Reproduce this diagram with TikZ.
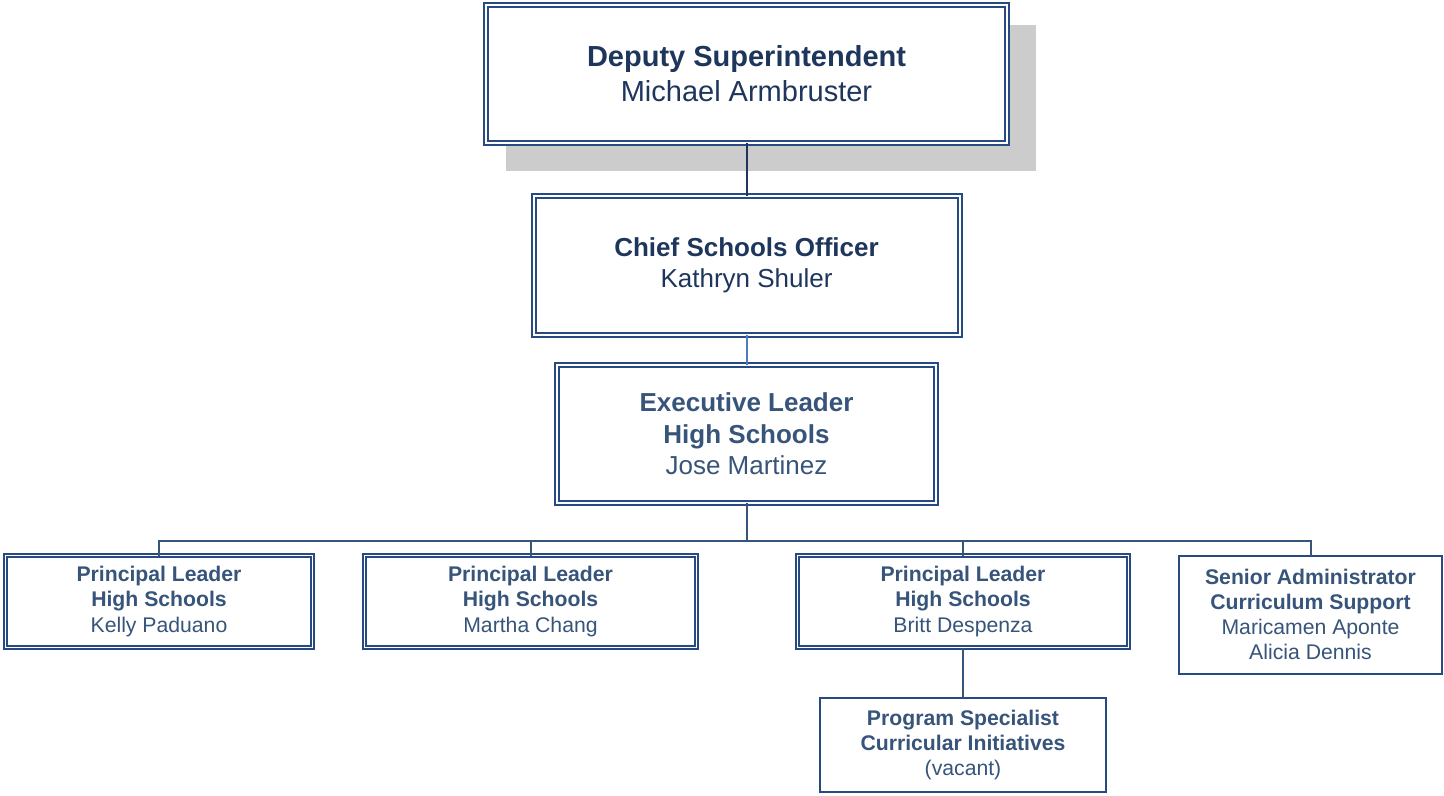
\documentclass[tikz,border=0pt]{standalone}
\usepackage{fontspec}
\setmainfont{Liberation Sans}
\usepackage{tikz}
\usetikzlibrary{positioning,calc,backgrounds}

\definecolor{boxblue}{RGB}{40,74,130}
\definecolor{navytext}{RGB}{30,54,92}
\definecolor{slatetext}{RGB}{55,84,122}
\definecolor{linenavy}{RGB}{30,54,92}
\definecolor{linelight}{RGB}{79,124,190}
\definecolor{lineslate}{RGB}{55,84,122}
\definecolor{shadowgray}{RGB}{204,204,204}

\begin{document}
\begin{tikzpicture}[
    bigbox/.style={rectangle, draw=boxblue, line width=1pt, double=white, double distance=1pt, fill=white, align=center, inner sep=0pt, outer sep=0pt},
    smallbox/.style={rectangle, draw=boxblue, line width=0.8pt, double=white, double distance=0.7pt, fill=white, align=center, inner sep=0pt, outer sep=0pt, minimum height=46pt},
    singlebox/.style={rectangle, draw=boxblue, line width=1pt, fill=white, align=center, inner sep=0pt, outer sep=0pt},
    bigfont/.style={font=\fontsize{13}{15.75}\selectfont},
    smallfont/.style={font=\fontsize{10.6}{12.6}\selectfont, text=slatetext},
    link/.style={draw=lineslate, line width=1pt}
]
    \useasboundingbox (0,0) rectangle (722pt,-398pt);

    % Top level - deputy superintendent
    \node [bigbox, minimum width=260.5pt, minimum height=69pt, font=\fontsize{14.5}{17.5}\selectfont, text=navytext] (deputy) at (373.25pt,-37pt) {
        \textbf{Deputy Superintendent}\\
        Michael Armbruster
    };

    % Chief and executive leader - stacked below
    \node [bigbox, minimum width=213pt, minimum height=69.5pt, bigfont, text=navytext, below=26.5pt of deputy] (chief) {
        \textbf{Chief Schools Officer}\\
        Kathryn Shuler
    };
    \node [bigbox, minimum width=189.5pt, minimum height=69pt, bigfont, text=slatetext, below=15pt of chief] (exec) {
        \textbf{Executive Leader}\\
        \textbf{High Schools}\\
        Jose Martinez
    };

    % Principal leaders - bottom row
    \node [smallbox, smallfont, minimum width=165.5pt, below=26.25pt of exec, xshift=108.25pt] (britt) {
        \textbf{Principal Leader}\\
        \textbf{High Schools}\\
        Britt Despenza
    };
    \node [smallbox, smallfont, minimum width=166pt, left=50.5pt of britt] (martha) {
        \textbf{Principal Leader}\\
        \textbf{High Schools}\\
        Martha Chang
    };
    \node [smallbox, smallfont, minimum width=153.5pt, left=26pt of martha] (kelly) {
        \textbf{Principal Leader}\\
        \textbf{High Schools}\\
        Kelly Paduano
    };
    \node [singlebox, smallfont, minimum width=131.5pt, minimum height=59pt, right=25.25pt of britt.north east, anchor=north west] (senior) {
        \textbf{Senior Administrator}\\
        \textbf{Curriculum Support}\\
        Maricamen Aponte\\
        Alicia Dennis
    };

    % Program specialist under britt
    \node [singlebox, smallfont, minimum width=143pt, minimum height=47pt, below=25.25pt of britt] (vacant) {
        \textbf{Program Specialist}\\
        \textbf{Curricular Initiatives}\\
        (vacant)
    };

    % Connectors
    \coordinate [below=19pt of exec] (bus);
    \draw [link, draw=linenavy] (deputy) -- (chief);
    \draw [link, draw=linelight] (chief) -- (exec);
    \draw [link] (exec) -- (bus);
    \draw [link] (kelly.north) |- (bus) -| (senior.north);
    \draw [link] (martha.north) -- (martha.north |- bus);
    \draw [link] (britt.north) -- (britt.north |- bus);
    \draw [link] (britt) -- (vacant);

    % Grey shadow behind the top box
    \begin{scope}[on background layer]
        \fill [shadowgray] ($(deputy.north west)+(10pt,-10pt)$) rectangle ($(deputy.south east)+(14.5pt,-14pt)$);
    \end{scope}

\end{tikzpicture}
\end{document}
